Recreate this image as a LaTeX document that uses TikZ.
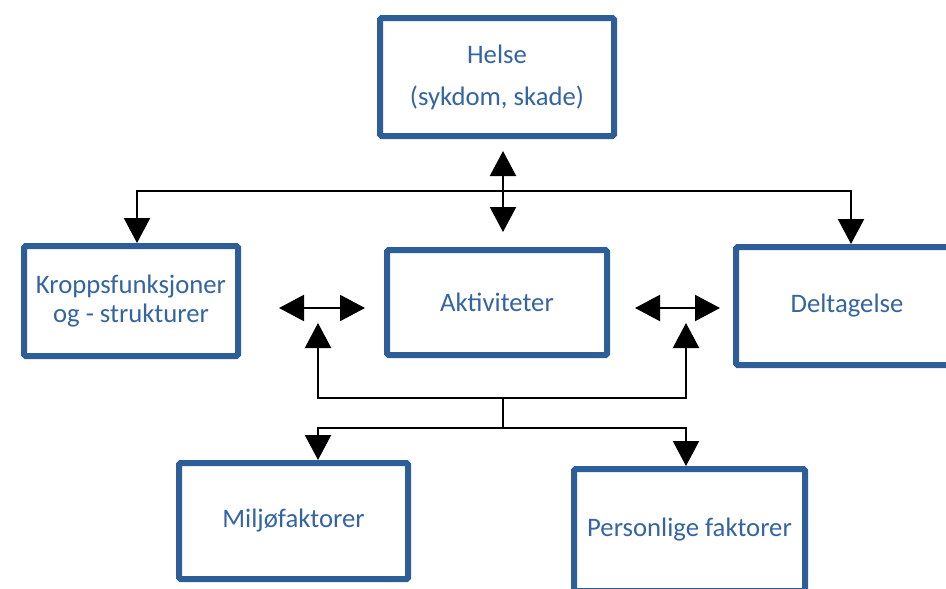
\documentclass[tikz,border=0pt]{standalone}
\usepackage{fontspec}
\setmainfont{Carlito}
\usetikzlibrary{arrows.meta}
\definecolor{boxblue}{RGB}{46,94,152}
\definecolor{textblue}{RGB}{52,101,162}
\tikzset{
  icfbox/.style={draw=boxblue, line width=6pt, fill=white, rounded corners=1.5pt,
    text=textblue, align=center, font=\fontsize{26.7}{29.5}\selectfont, inner sep=0pt},
  link/.style={draw=black, line width=2.2pt},
  head/.style={-{Triangle[width=26pt,length=25pt]}},
  twohead/.style={{Triangle[width=26pt,length=25pt]}-{Triangle[width=26pt,length=25pt]}}
}
\begin{document}
\begin{tikzpicture}[x=1pt,y=-1pt]
  \useasboundingbox (0,0) rectangle (946,589);
  \clip (0,0) rectangle (946,589);

  % boxes
  \node[icfbox, minimum width=234pt, minimum height=118pt,
        font=\fontsize{26.7}{42}\selectfont] (helse) at (497,77) {Helse\\(sykdom, skade)};
  \node[icfbox, minimum width=214pt, minimum height=110pt] (kropp) at (131,301)
        {Kroppsfunksjoner\\og - strukturer};
  \node[icfbox, minimum width=220pt, minimum height=105pt] (akt) at (497,302.5) {Aktiviteter};
  \node[icfbox, minimum width=222pt, minimum height=118pt] (delt) at (847,306) {Deltagelse};
  \node[icfbox, minimum width=229pt, minimum height=116pt] (milj) at (293.5,521) {Miljøfaktorer};
  \node[icfbox, minimum width=231pt, minimum height=122pt] (pers) at (689.5,530) {Personlige faktorer};

  % junction points
  \coordinate (jT) at (503,191);
  \coordinate (jU) at (503,398);
  \coordinate (jD) at (503,428);
  \coordinate (upL) at (318,323);
  \coordinate (upR) at (686,323);
  \coordinate (hLa) at (279,308);
  \coordinate (hLb) at (365,308);
  \coordinate (hRa) at (635,308);
  \coordinate (hRb) at (720,308);

  % health to the upper row
  \draw[link, twohead, shorten <=12pt, shorten >=15pt] ([xshift=6pt]helse.south) -- ([xshift=6pt]akt.north);
  \draw[link, head] (jT) -| ([xshift=6pt]kropp.north);
  \draw[link, head] (jT) -| ([xshift=4pt]delt.north);

  % interactions in the middle row
  \draw[link, twohead] (hLa) -- (hLb);
  \draw[link, twohead] (hRa) -- (hRb);

  % contextual factors
  \draw[link] (jU) -- (jD);
  \draw[link, head] (jU) -| (upL);
  \draw[link, head] (jU) -| (upR);
  \draw[link, head] (jD) -| (milj.north -| upL);
  \draw[link, head] (jD) -| (pers.north -| upR);
\end{tikzpicture}
\end{document}
